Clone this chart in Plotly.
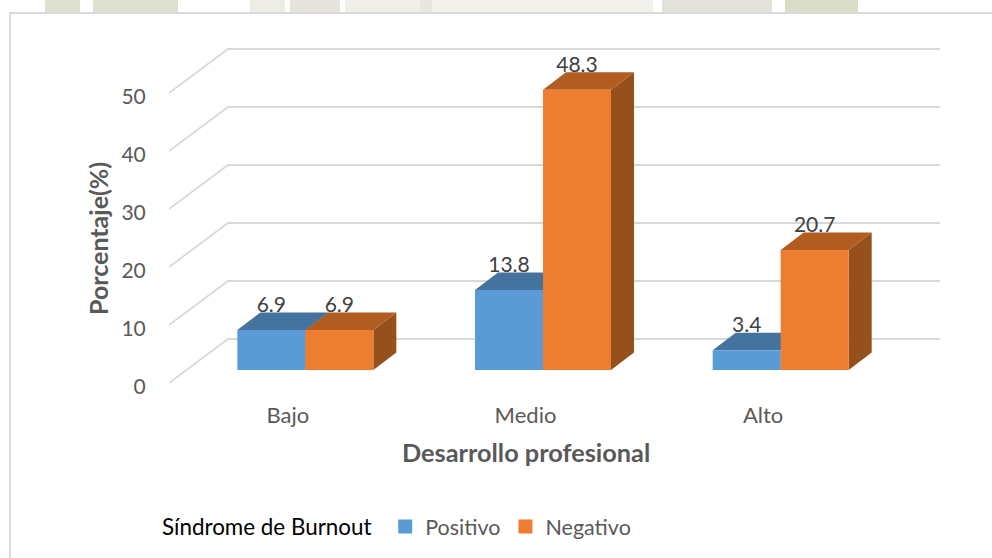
import plotly.graph_objects as go

categorias = ["Bajo", "Medio", "Alto"]
positivo = [6.9, 13.8, 3.4]
negativo = [6.9, 48.3, 20.7]
ticks_y = [0, 10, 20, 30, 40, 50]

AZUL = ["#5B9BD5", "#44739F", "#3A6A96"]
NARANJA = ["#ED7D31", "#B15D21", "#96501B"]
GRIS = "#595959"
FUENTE = "Lato"

# escalas en pixeles de la imagen
PX_X = 237.67
PX_Y = 5.8
ANCHO, ALTO = 992, 558
IZQ, DER, ARR, ABA = 169, 961, 20, 383

# desplazamientos del falso 3D, en unidades de los ejes
FONDO_X, FONDO_Y = 59 / PX_X, 44 / PX_Y
BASE_X, BASE_Y = 17.5 / PX_X, 13 / PX_Y
PROF_X, PROF_Y = 23 / PX_X, 17.5 / PX_Y
BARRA = 68 / PX_X


def px(x):
    return (x - IZQ) / (DER - IZQ)


def py(y):
    return (ABA - y) / (ABA - ARR)


def cara(puntos, color):
    xs = [p[0] for p in puntos] + [puntos[0][0]]
    ys = [p[1] for p in puntos] + [puntos[0][1]]
    return go.Scatter(x=xs, y=ys, mode="none", fill="toself", fillcolor=color,
                      showlegend=False, hoverinfo="skip")


def barra(fig, i, valor, colores, lado):
    # lado: -1 serie izquierda, 0 serie derecha
    x0 = i + BASE_X + lado * BARRA
    x1 = x0 + BARRA
    y0 = BASE_Y
    y1 = BASE_Y + valor
    fig.add_trace(cara([(x1, y0), (x1 + PROF_X, y0 + PROF_Y), (x1 + PROF_X, y1 + PROF_Y), (x1, y1)], colores[2]))
    fig.add_trace(cara([(x0, y1), (x0 + PROF_X, y1 + PROF_Y), (x1 + PROF_X, y1 + PROF_Y), (x1, y1)], colores[1]))
    fig.add_trace(cara([(x0, y0), (x1, y0), (x1, y1), (x0, y1)], colores[0]))


fig = go.Figure()

x_izq = -0.5
x_der = x_izq + 712 / PX_X
for v in ticks_y:
    fig.add_trace(go.Scatter(
        x=[x_izq, x_izq + FONDO_X, x_der + FONDO_X],
        y=[v, v + FONDO_Y, v + FONDO_Y],
        mode="lines", line=dict(color="#D9D9D9", width=1.8),
        showlegend=False, hoverinfo="skip"))

for i in range(len(categorias)):
    barra(fig, i, positivo[i], AZUL, -1)
    barra(fig, i, negativo[i], NARANJA, 0)

# etiquetas de datos
for valores, lado in ((positivo, -1), (negativo, 0)):
    fig.add_trace(go.Scatter(
        x=[i + BASE_X + (lado + 0.5) * BARRA for i in range(len(categorias))],
        y=[v + BASE_Y + PROF_Y - 0.8 for v in valores],
        text=["%.1f" % v for v in valores],
        mode="text", textposition="top center",
        textfont=dict(family=FUENTE, size=21, color="#404040"),
        showlegend=False, hoverinfo="skip"))

# entradas de la leyenda
for nombre, colores in (("Positivo", AZUL), ("Negativo", NARANJA)):
    fig.add_trace(go.Scatter(
        x=[None], y=[None], name=nombre, mode="markers",
        marker=dict(symbol="square", size=14, color=colores[0])))

# marca de agua de la pagina, sobre el recuadro
marca = [
    (45, 80, "#DDE0CE"),
    (93, 178, "#DDE0CE"),
    (250, 285, "#EDEDE6"),
    (290, 340, "#E6E4DC"),
    (345, 420, "#EFEEE8"),
    (420, 432, "#E8E6DE"),
    (432, 653, "#F1F0EB"),
    (662, 772, "#E3E2DA"),
    (785, 858, "#DADDC8"),
]
formas = [dict(type="rect", xref="paper", yref="paper", layer="below",
               x0=px(a), x1=px(b), y0=py(0), y1=py(13),
               fillcolor=c, line=dict(width=0)) for a, b, c in marca]
formas.append(dict(type="rect", xref="paper", yref="paper", layer="below",
                   x0=px(10), x1=px(1000), y0=py(13), y1=py(570),
                   fillcolor="white", line=dict(color="#D9D9D9", width=2)))

fig.update_layout(
    width=ANCHO, height=ALTO,
    margin=dict(l=IZQ, r=ANCHO - DER, t=ARR, b=ALTO - ABA, pad=0),
    paper_bgcolor="white", plot_bgcolor="rgba(0,0,0,0)",
    font=dict(family=FUENTE, size=20, color=GRIS),
    shapes=formas,
    xaxis=dict(range=[x_izq, x_izq + (DER - IZQ) / PX_X],
               tickvals=list(range(len(categorias))), ticktext=categorias,
               showgrid=False, zeroline=False, showline=False,
               ticks="outside", ticklen=13, tickcolor="rgba(0,0,0,0)",
               tickfont=dict(family=FUENTE, size=22, color=GRIS)),
    yaxis=dict(range=[0, (ABA - ARR) / PX_Y], tickvals=ticks_y,
               showgrid=False, zeroline=False, showline=False,
               ticks="outside", ticklen=18, tickcolor="rgba(0,0,0,0)",
               ticklabelshift=4,
               tickfont=dict(family=FUENTE, size=21, color=GRIS)),
    legend=dict(orientation="h", xref="container", yref="container",
                x=160 / ANCHO, y=1 - 506 / ALTO, xanchor="left", yanchor="top",
                title=dict(text="Síndrome de Burnout&nbsp;",
                           font=dict(family=FUENTE, size=22.4, color="black")),
                font=dict(family=FUENTE, size=21.5, color=GRIS),
                bgcolor="rgba(0,0,0,0)"),
    annotations=[
        dict(text="<b>Desarrollo profesional</b>", xref="paper", yref="paper",
             x=px(525.5), y=py(452), showarrow=False, xanchor="center", yanchor="middle",
             font=dict(family=FUENTE, size=25.3, color=GRIS)),
        dict(text="<b>Porcentaje(%)</b>", xref="paper", yref="paper", textangle=-90,
             x=px(98), y=py(239), showarrow=False, xanchor="center", yanchor="middle",
             font=dict(family=FUENTE, size=25, color=GRIS)),
    ],
)

fig.write_html("out.html", config=dict(displayModeBar=False),
               post_script="document.body.style.margin='0';")
